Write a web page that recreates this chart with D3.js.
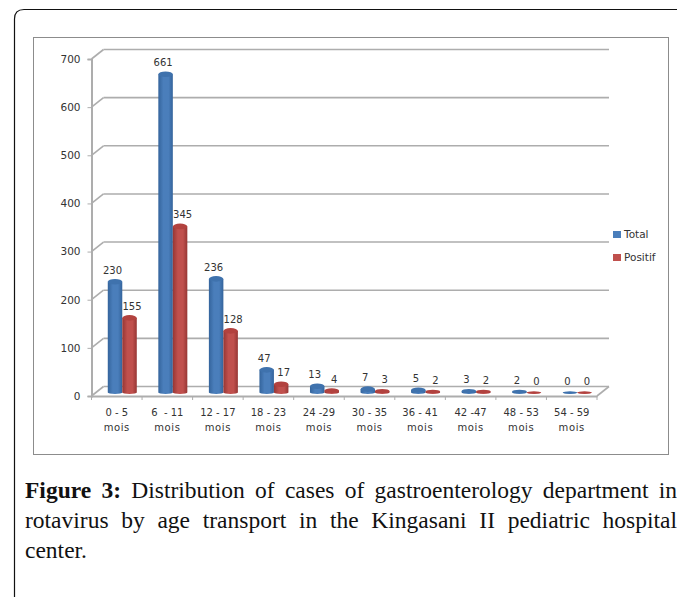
<!DOCTYPE html>
<html lang="en">
<head>
  <meta charset="utf-8" />
  <title>Figure 3</title>
  <script src="https://cdn.jsdelivr.net/npm/d3@7"></script>
  <style>
    html, body { margin:0; padding:0; background:#fff; overflow:hidden; }
    svg { display:block; }
    .lbl { font-family:"DejaVu Sans", sans-serif; font-size:10px; fill:#333; }
    .lbl-big { font-family:"DejaVu Sans", sans-serif; font-size:10.5px; fill:#333; }
    .caption { font-family:"Liberation Serif", serif; font-size:23.5px; fill:#111; }
  </style>
</head>
<body>
<div id="chart"></div>
<script>
// --- data ---------------------------------------------------------------
const categories = ["0 - 5", "6  - 11", "12 - 17", "18 - 23", "24 -29", "30 - 35", "36 - 41", "42 -47", "48 - 53", "54 - 59"];
const unit = "mois";
const total = [230, 661, 236, 47, 13, 7, 5, 3, 2, 0];
const positif = [155, 345, 128, 17, 4, 3, 2, 2, 0, 0];
const yTicks = [0, 100, 200, 300, 400, 500, 600, 700];
const seriesNames = ["Total", "Positif"];
const captionLines = [
  [["Figure 3:", true], ["Distribution of cases of gastroenterology department in", false]],
  [["rotavirus by age transport in the Kingasani II pediatric hospital", false]],
  [["center.", false]]
];

// --- layout -------------------------------------------------------------
const W = 677, H = 597;
const plot = {left:91.5, right:597, top:59, bottom:396};
const depth = {x:12, y:-9.5};
const barW = 14.5;

const svg = d3.select("#chart").append("svg").attr("width", W).attr("height", H);

const x = d3.scaleBand().domain(categories).range([plot.left, plot.right]);
const y = d3.scaleLinear().domain([0, 700]).range([plot.bottom, plot.top]);

// outer page frame + chart box
svg.append("path")
  .attr("d", "M14.5,597 V19 Q14.5,9.5 24,9.5 H677")
  .attr("fill", "none").attr("stroke", "#111").attr("stroke-width", 1.2);
svg.append("rect")
  .attr("x", 33.5).attr("y", 37.5).attr("width", 635).attr("height", 417)
  .attr("fill", "#fff").attr("stroke", "#8c8c8c").attr("stroke-width", 1);

// gradients for the cylinders
const defs = svg.append("defs");
function addGrad(id, edge, mid) {
  const g = defs.append("linearGradient").attr("id", id);
  g.append("stop").attr("offset", "0%").attr("stop-color", edge);
  g.append("stop").attr("offset", "35%").attr("stop-color", mid);
  g.append("stop").attr("offset", "70%").attr("stop-color", mid);
  g.append("stop").attr("offset", "100%").attr("stop-color", edge);
}
addGrad("gradBlue", "#34649c", "#4a7ebb");
addGrad("gradRed", "#963634", "#c0504d");

// back wall gridlines + side diagonals
const grid = svg.append("g").attr("stroke", "#adadad").attr("stroke-width", 1.6);
grid.selectAll(".back").data(yTicks).join("line")
  .attr("x1", plot.left + depth.x).attr("x2", plot.right + depth.x)
  .attr("y1", d => y(d) + depth.y).attr("y2", d => y(d) + depth.y);
grid.selectAll(".side").data(yTicks).join("line")
  .attr("x1", plot.left).attr("x2", plot.left + depth.x)
  .attr("y1", d => y(d)).attr("y2", d => y(d) + depth.y);
// floor
grid.append("line")
  .attr("x1", plot.right).attr("x2", plot.right + depth.x)
  .attr("y1", plot.bottom).attr("y2", plot.bottom + depth.y);

// axes
const yAxis = svg.append("g").attr("transform", `translate(${plot.left},0)`)
  .call(d3.axisLeft(y).tickValues(yTicks).tickSize(4).tickPadding(7));
const xAxis = svg.append("g").attr("transform", `translate(0,${plot.bottom})`)
  .call(d3.axisBottom(x).tickSize(0).tickFormat(""));

[yAxis, xAxis].forEach(a => {
  a.selectAll(".domain").attr("stroke", "#adadad").attr("stroke-width", 2);
  a.selectAll("line").attr("stroke", "#adadad");
});
yAxis.selectAll("text").attr("class", "lbl-big").attr("font-family", null).attr("font-size", null);

// band edge ticks on the floor
xAxis.selectAll(".edge").data(d3.range(categories.length + 1)).join("line")
  .attr("x1", i => plot.left + i * x.bandwidth()).attr("x2", i => plot.left + i * x.bandwidth())
  .attr("y1", 0).attr("y2", 4)
  .attr("stroke", "#adadad");

// two line category labels
const catLbl = svg.append("g").selectAll("text").data(categories).join("text")
  .attr("class", "lbl").attr("text-anchor", "middle")
  .attr("transform", d => `translate(${x(d) + x.bandwidth() / 2},0)`);
catLbl.append("tspan").attr("x", 0).attr("y", 416).style("white-space", "pre").text(d => d);
catLbl.append("tspan").attr("x", 0).attr("y", 431).attr("letter-spacing", 0.6).text(unit);

// cylinders
const baseY = plot.bottom - 3.5;
const perUnit = y(0) - y(1);
function drawSeries(values, offset, grad, topColor, lblDx) {
  const g = svg.append("g");
  values.forEach((v, i) => {
    const cx = x(categories[i]) + x.bandwidth() / 2 + 5.5 + offset;
    const topY = baseY - v * perUnit;
    const ry = Math.min(2.8, 1.2 + v * 0.3);
    g.append("path")
      .attr("d", `M${cx - barW / 2},${topY} V${baseY} A${barW / 2},1.5 0 0 0 ${cx + barW / 2},${baseY} V${topY} Z`)
      .attr("fill", `url(#${grad})`);
    g.append("ellipse")
      .attr("cx", cx).attr("cy", topY).attr("rx", barW / 2).attr("ry", ry)
      .attr("fill", topColor);
    g.append("text").attr("class", "lbl").attr("text-anchor", "middle")
      .attr("x", cx + lblDx).attr("y", topY - 8)
      .text(v);
  });
}
drawSeries(total, -barW / 2, "gradBlue", "#3f72ad", -2.5);
drawSeries(positif, barW / 2, "gradRed", "#b2423f", 2.5);

// legend
const legendColors = ["#4a7ebb", "#c0504d"];
const legend = svg.append("g").selectAll("g").data(seriesNames).join("g")
  .attr("transform", (d, i) => `translate(613,${231 + i * 23})`);
legend.append("rect").attr("width", 8).attr("height", 7).attr("fill", (d, i) => legendColors[i]);
legend.append("text").attr("class", "lbl-big").attr("x", 11).attr("y", 7).text(d => d);

// caption, justified to the text column
const capLeft = 25, capRight = 677;
captionLines.forEach((line, i) => {
  const t = svg.append("text").attr("class", "caption").attr("x", capLeft).attr("y", 498 + i * 30);
  line.forEach(([s, bold], k) => {
    t.append("tspan").attr("font-weight", bold ? "bold" : null).text((k ? " " : "") + s);
  });
  if (i < captionLines.length - 1) {
    const gaps = line.map(l => l[0]).join(" ").split(" ").length - 1;
    const extra = (capRight - capLeft - t.node().getComputedTextLength()) / gaps;
    t.attr("word-spacing", extra);
  }
});
</script>
</body>
</html>
